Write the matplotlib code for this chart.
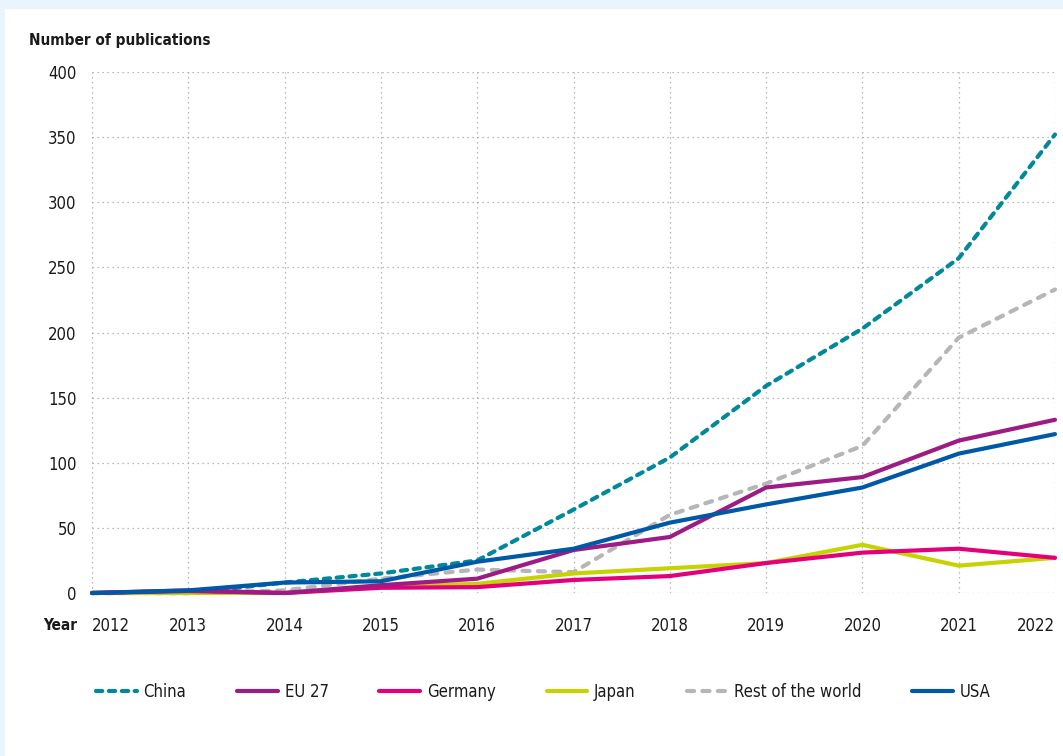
import matplotlib
matplotlib.use("Agg")
import matplotlib.pyplot as plt
from matplotlib.patches import Rectangle

plt.rcParams['font.family'] = ['DejaVu Sans']
plt.rcParams['font.stretch'] = 'condensed'

# data
years = list(range(2012, 2023))
china = [0, 0, 8, 15, 25, 64, 104, 159, 203, 257, 352]
eu27 = [0, 1.5, 0, 6, 11, 33, 43, 81, 89, 117, 133]
germany = [0, 2, 0, 4, 4.5, 10, 13, 23, 31, 34, 27]
japan = [0, 0, 0, 5, 7, 15, 19, 23, 37, 21, 27]
rest = [0, 0, 2, 11, 18, 16, 60, 84, 113, 196, 233]
usa = [0, 2, 8, 9, 24, 34, 54, 68, 81, 107, 122]

series = [
    ("China", china, "#00899A", (1.5, 1.6)),
    ("EU 27", eu27, "#9C1B84", None),
    ("Germany", germany, "#E4007C", None),
    ("Japan", japan, "#C6D300", None),
    ("Rest of the world", rest, "#B6B6B6", (1.7, 2.0)),
    ("USA", usa, "#0059A6", None),
]

W, H = 1063, 756
fig = plt.figure(figsize=(W / 100, H / 100), dpi=100)
fig.patch.set_facecolor("#EAF4FC")
fig.patches.append(Rectangle((5 / W, 0), 1, 1 - 9 / H, transform=fig.transFigure,
                             facecolor="white", edgecolor="none", zorder=-5))

ax = fig.add_axes([92 / W, 1 - 593 / H, (1055 - 92) / W, (593 - 72) / H])
ax.set_facecolor("none")
ax.set_zorder(1)

zord = {"Rest of the world": 2, "China": 3, "Japan": 3, "Germany": 4, "EU 27": 5, "USA": 6}
for name, vals, col, dash in series:
    ln, = ax.plot(years, vals, color=col, lw=3.0, label=name, clip_on=False,
                  solid_capstyle="round", dash_capstyle="round", zorder=zord[name])
    if dash is not None:
        ln.set_dashes(dash)

ax.set_xlim(2012, 2022)
ax.set_ylim(0, 400)
ax.set_xticks(years)
ax.set_yticks(range(0, 401, 50))
for s in ax.spines.values():
    s.set_visible(False)
ax.tick_params(length=0, labelsize=12, colors="#1a1a1a")
ax.tick_params(axis="y", pad=11)
ax.tick_params(axis="x", pad=17)
ax.grid(True, color="#a5a5a5", lw=0.9, linestyle=(0, (1, 3)))

xt = ax.get_xticklabels()
xt[0].set_horizontalalignment("left")
xt[-1].set_horizontalalignment("right")

fig.text(29 / W, 1 - 40 / H, "Number of publications", fontsize=11, fontweight="bold",
         va="center", ha="left", color="#1a1a1a")
fig.text(77 / W, 1 - 625 / H, "Year", fontsize=11, fontweight="bold",
         va="center", ha="right", color="#1a1a1a")

leg = fig.legend(loc="center left", bbox_to_anchor=(81 / W, 1 - 692 / H), ncol=6,
                 frameon=False, fontsize=12, handlelength=2.45, handletextpad=0.4,
                 columnspacing=3.05)
for t in leg.get_texts():
    t.set_color("#1a1a1a")

fig.savefig("out.png", dpi=100)
